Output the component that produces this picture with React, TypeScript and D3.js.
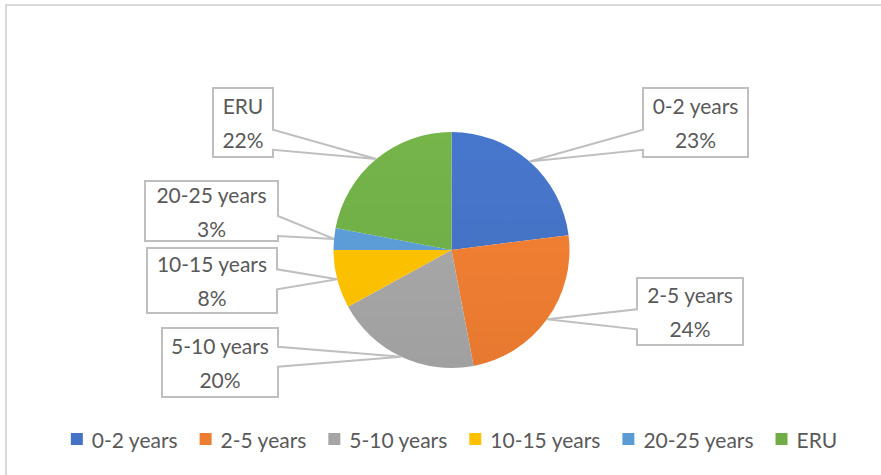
import React, { useEffect, useRef } from 'react';
import * as d3 from 'd3';

// Chart data
const categories = ['0-2 years', '2-5 years', '5-10 years', '10-15 years', '20-25 years', 'ERU'];
const shares = [23, 24, 20, 8, 3, 22];
const colors = ['#4472C4', '#ED7D31', '#A5A5A5', '#FFC000', '#5B9BD5', '#70AD47'];

// Callout box placement (left, top, width, height) per category
const calloutLayout: Record<string, { x: number; y: number; w: number; h: number }> = {
    '0-2 years': { x: 643, y: 88, w: 105, h: 69 },
    '2-5 years': { x: 637, y: 278, w: 106, h: 67 },
    '5-10 years': { x: 162, y: 328, w: 116, h: 69 },
    '10-15 years': { x: 147, y: 248, w: 130, h: 65 },
    '20-25 years': { x: 145, y: 181, w: 133, h: 60 },
    'ERU': { x: 213, y: 88, w: 60, h: 69 },
};

const FONT = 'Lato, "Open Sans", sans-serif';
const TEXT = '#595959';

interface Slice {
    name: string;
    value: number;
    color: string;
}

const App: React.FC = () => {
    const chartRef = useRef<SVGSVGElement>(null);

    useEffect(() => {
        if (!chartRef.current) return;
        const root = d3.select(chartRef.current);
        root.selectAll('*').remove();

        const width = 881;
        const height = 475;
        const cx = 451.5;
        const cy = 250;
        const radius = 118;

        const data: Slice[] = categories.map((c, i) => ({ name: c, value: shares[i], color: colors[i] }));

        // Outer chart border (only top/left visible in the frame)
        root.append('rect')
            .attr('x', 6)
            .attr('y', 5)
            .attr('width', width + 10)
            .attr('height', height + 10)
            .attr('fill', '#ffffff')
            .attr('stroke', '#d9d9d9')
            .attr('stroke-width', 2);

        // Gradients for a soft Office-like shading
        const defs = root.append('defs');
        data.forEach((d, i) => {
            const g = defs.append('linearGradient')
                .attr('id', `slice-grad-${i}`)
                .attr('gradientUnits', 'userSpaceOnUse')
                .attr('x1', 0).attr('y1', -radius)
                .attr('x2', 0).attr('y2', radius);
            g.append('stop').attr('offset', '0%').attr('stop-color', d3.color(d.color)!.brighter(0.12).formatHex());
            g.append('stop').attr('offset', '100%').attr('stop-color', d3.color(d.color)!.darker(0.08).formatHex());
        });

        const pie = d3.pie<Slice>().value(d => d.value).sort(null);
        const arcs = pie(data);
        const arc = d3.arc<d3.PieArcDatum<Slice>>().innerRadius(0).outerRadius(radius);
        const edgeArc = d3.arc<d3.PieArcDatum<Slice>>().innerRadius(radius).outerRadius(radius);

        const pieG = root.append('g').attr('transform', `translate(${cx},${cy})`);
        pieG.selectAll('path.slice')
            .data(arcs)
            .enter()
            .append('path')
            .attr('class', 'slice')
            .attr('d', arc)
            .attr('fill', (d, i) => `url(#slice-grad-${i})`);

        // Callouts with pointer wedges
        const total = d3.sum(shares);
        arcs.forEach(d => {
            const box = calloutLayout[d.data.name];
            const [ex, ey] = edgeArc.centroid(d);
            const tipX = ex + cx;
            const tipY = ey + cy;
            const left = box.x;
            const right = box.x + box.w;
            const top = box.y;
            const bottom = box.y + box.h;
            const baseC = Math.max(top + box.h * 0.25, Math.min(top + box.h * 0.75, tipY));
            const b0 = baseC - 10;
            const b1 = baseC + 10;
            const pointerRight = tipX > right;

            const p = d3.path();
            if (pointerRight) {
                p.moveTo(left, top);
                p.lineTo(right, top);
                p.lineTo(right, b0);
                p.lineTo(tipX, tipY);
                p.lineTo(right, b1);
                p.lineTo(right, bottom);
                p.lineTo(left, bottom);
                p.closePath();
            } else {
                p.moveTo(left, top);
                p.lineTo(right, top);
                p.lineTo(right, bottom);
                p.lineTo(left, bottom);
                p.lineTo(left, b1);
                p.lineTo(tipX, tipY);
                p.lineTo(left, b0);
                p.closePath();
            }

            root.append('path')
                .attr('d', p.toString())
                .attr('fill', '#ffffff')
                .attr('stroke', '#bfbfbf')
                .attr('stroke-width', 2)
                .attr('stroke-linejoin', 'miter');

            const mid = top + box.h / 2;
            const tx = left + box.w / 2;
            root.append('text')
                .attr('x', tx)
                .attr('y', mid - 17)
                .attr('text-anchor', 'middle')
                .attr('dominant-baseline', 'central')
                .attr('font-family', FONT)
                .attr('font-size', '21px')
                .attr('fill', TEXT)
                .text(d.data.name);
            root.append('text')
                .attr('x', tx)
                .attr('y', mid + 17)
                .attr('text-anchor', 'middle')
                .attr('dominant-baseline', 'central')
                .attr('font-family', FONT)
                .attr('font-size', '21px')
                .attr('fill', TEXT)
                .text(`${Math.round((d.data.value / total) * 100)}%`);
        });

        // Legend
        const legend = root.append('g');
        const sw = 12;
        const gapText = 9;
        const gapItem = 22;
        const legendY = 439;
        const items = legend.selectAll('g.item')
            .data(data)
            .enter()
            .append('g')
            .attr('class', 'item');
        items.append('rect')
            .attr('width', sw)
            .attr('height', sw)
            .attr('y', legendY - sw / 2)
            .attr('fill', d => d.color);
        items.append('text')
            .attr('x', sw + gapText)
            .attr('y', legendY)
            .attr('dominant-baseline', 'central')
            .attr('font-family', FONT)
            .attr('font-size', '21px')
            .attr('fill', TEXT)
            .text(d => d.name);

        let offset = 0;
        const widths: number[] = [];
        items.each(function () {
            const t = d3.select(this).select('text').node() as SVGTextElement;
            widths.push(sw + gapText + t.getComputedTextLength());
        });
        const totalW = d3.sum(widths) + gapItem * (widths.length - 1);
        offset = 454 - totalW / 2;
        items.each(function (_, i) {
            d3.select(this).attr('transform', `translate(${offset},0)`);
            offset += widths[i] + gapItem;
        });
    }, []);

    return (
        <div style={{ position: 'absolute', left: 0, top: 0, width: 881, height: 475, overflow: 'hidden', background: '#fff' }}>
            <svg ref={chartRef} width={881} height={475} style={{ display: 'block' }}></svg>
        </div>
    );
};

export default App;
